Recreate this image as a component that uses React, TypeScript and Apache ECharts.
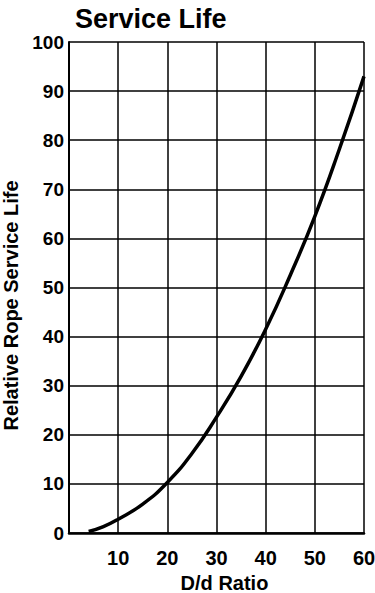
import React, { useEffect, useRef } from "react";
import * as echarts from "echarts";

const ratio = [4, 7, 10, 15, 20, 25, 30, 35, 40, 45, 50, 55, 60];
const serviceLife = [0.3, 1.3, 2.8, 5.9, 10.3, 16.2, 23.6, 31.9, 41.5, 52.5, 64.5, 78.2, 93];
const titleText = "Service Life";
const xName = "D/d Ratio";
const yName = "Relative Rope Service Life";

const FONT = "'Liberation Sans', Arial, Helvetica, sans-serif";

export default function App() {
  const ref = useRef<HTMLDivElement>(null);
  useEffect(() => {
    document.body.style.margin = "0";
    document.body.style.overflow = "hidden";
    if (!ref.current) return;
    const chart = echarts.init(ref.current, undefined, { renderer: "svg" });
    chart.setOption({
      animation: false,
      backgroundColor: "#fff",
      title: {
        text: titleText,
        left: 70,
        top: 0,
        textStyle: { fontFamily: FONT, fontWeight: "bold", fontSize: 27, color: "#000" },
      },
      grid: { left: 69, right: 11, top: 42, bottom: 60, containLabel: false, outerBoundsMode: "none" },
      xAxis: {
        type: "value",
        min: 0,
        max: 60,
        interval: 10,
        name: xName,
        nameLocation: "middle",
        nameGap: 32,
        nameTextStyle: { fontFamily: FONT, fontWeight: "bold", fontSize: 20, color: "#000", padding: [0, 0, 0, 16] },
        axisLine: { show: true, lineStyle: { color: "#000", width: 2.5 } },
        axisTick: { show: false },
        axisLabel: {
          showMinLabel: false,
          margin: 15,
          fontFamily: FONT,
          fontWeight: "bold",
          fontSize: 20,
          color: "#000",
        },
        splitLine: { show: true, lineStyle: { color: "#000", width: 1.5 } },
      },
      yAxis: {
        type: "value",
        min: 0,
        max: 100,
        interval: 10,
        name: yName,
        nameLocation: "middle",
        nameGap: 34,
        nameRotate: 90,
        nameTextStyle: { fontFamily: FONT, fontWeight: "bold", fontSize: 20, color: "#000", padding: [0, 36, 0, 0] },
        axisLine: { show: true, lineStyle: { color: "#000", width: 2 } },
        axisTick: { show: false },
        axisLabel: {
          margin: 5,
          fontFamily: FONT,
          fontWeight: "bold",
          fontSize: 19,
          color: "#000",
        },
        splitLine: { show: true, lineStyle: { color: "#000", width: 1.5 } },
      },
      series: [
        {
          type: "line",
          data: ratio.map((x, i) => [x, serviceLife[i]]),
          smooth: true,
          showSymbol: false,
          lineStyle: { color: "#000", width: 3.5 },
        },
      ],
    });
    return () => chart.dispose();
  }, []);
  return <div ref={ref} style={{ width: 375, height: 593 }} />;
}
